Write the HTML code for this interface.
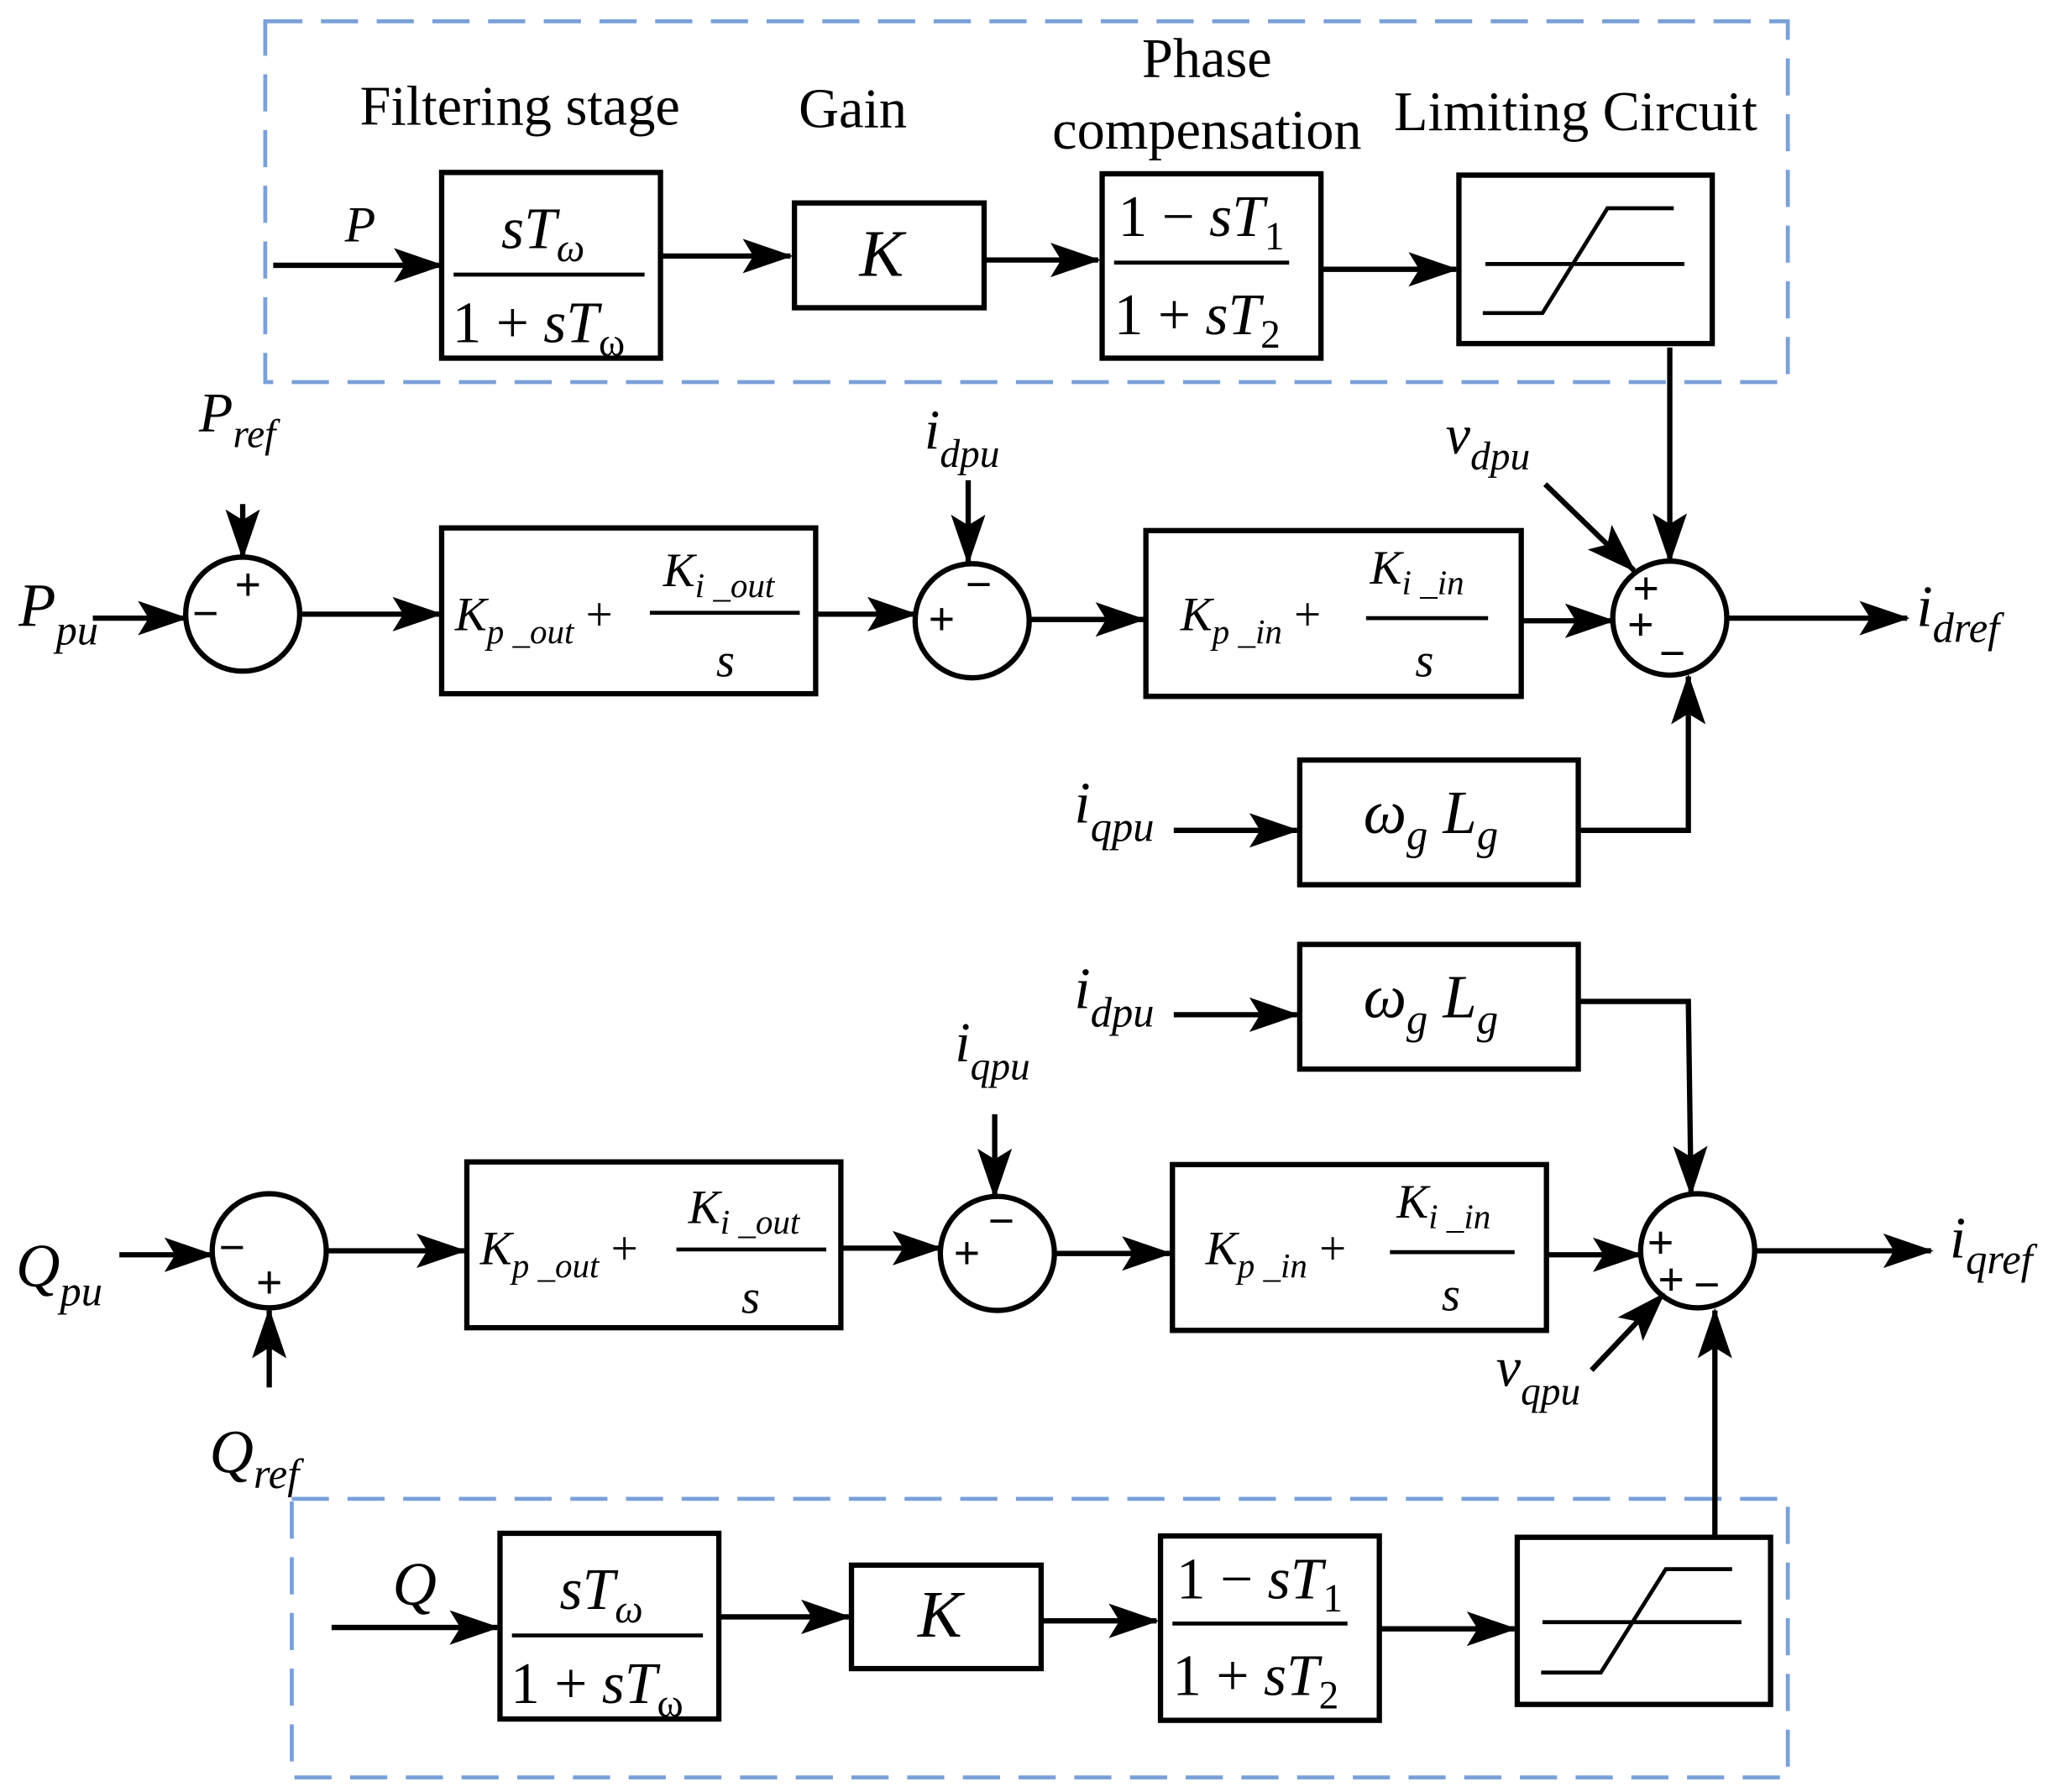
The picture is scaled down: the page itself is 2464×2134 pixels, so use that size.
<!DOCTYPE html>
<html><head><meta charset="utf-8"><style>html,body{margin:0;padding:0;background:#fff}svg{display:block}</style></head><body>
<svg width="2464" height="2134" viewBox="0 0 1560 1351" xmlns="http://www.w3.org/2000/svg" font-family="Liberation Serif, serif">
<defs><marker id="a" markerUnits="userSpaceOnUse" markerWidth="40" markerHeight="30" refX="36" refY="13" orient="auto"><path d="M0,0 L38,13 L0,26 L8,13 Z" fill="#000"/></marker></defs>
<g fill="none" stroke="#7aa0d8" stroke-width="3" stroke-dasharray="28,14">
<rect x="200" y="16" width="1148" height="272"/>
<rect x="220" y="1130" width="1128" height="210"/>
</g>
<g font-size="42" text-anchor="middle" fill="#000">
<text x="392" y="94">Filtering stage</text><text x="643" y="96">Gain</text>
<text x="910" y="58">Phase</text><text x="910" y="112">compensation</text><text x="1188" y="98">Limiting Circuit</text>
</g>
<g fill="none" stroke="#000" stroke-width="4">
<rect x="333" y="130" width="165" height="140"/><rect x="599" y="153" width="143" height="79"/>
<rect x="831" y="131" width="165" height="139"/><rect x="1100" y="132" width="191" height="127"/>
<rect x="333" y="398" width="282" height="125"/><rect x="864" y="400" width="283" height="125"/>
<rect x="980" y="573" width="210" height="94"/><rect x="980" y="712" width="210" height="94"/>
<rect x="352" y="876" width="282" height="125"/><rect x="884" y="878" width="282" height="125"/>
<rect x="377" y="1156" width="165" height="140"/><rect x="642" y="1180" width="143" height="78"/>
<rect x="875" y="1158" width="165" height="139"/><rect x="1144" y="1159" width="191" height="126"/>
<circle cx="183" cy="463" r="43"/><circle cx="733" cy="468" r="43"/><circle cx="1259" cy="466" r="43"/>
<circle cx="203" cy="943" r="43"/><circle cx="752" cy="945" r="43"/><circle cx="1280" cy="943" r="43"/>
</g>
<g fill="none" stroke="#000" stroke-width="3">
<path d="M1120,199 H1270 M1118,236 H1163 L1212,157 H1262"/>
<path d="M1163,1223 H1313 M1162,1261 H1207 L1256,1183 H1306"/>
<path d="M342,207 H486 M840,198 H972 M386,1233 H530 M884,1224 H1016"/>
<path d="M490,462 H603 M1030,466 H1122 M510,942 H623 M1048,944 H1142"/>
</g>
<g fill="none" stroke="#000" stroke-width="4" marker-end="url(#a)">
<path d="M206,200 H333"/><path d="M498,193 H596"/><path d="M742,196 H828"/><path d="M996,203 H1098"/>
<path d="M70,466 H140"/><path d="M183,380 V420"/><path d="M226,463 H332"/><path d="M615,463 H690"/>
<path d="M730,362 V424"/><path d="M776,467 H862"/><path d="M1147,468 H1216"/><path d="M1259,262 V423"/>
<path d="M1165,365 L1232,430"/><path d="M1302,466 H1438"/><path d="M885,626 H978"/><path d="M1190,626 H1273 V510"/>
<path d="M885,765 H978"/><path d="M1190,755 H1273 L1275,900"/>
<path d="M90,946 H160"/><path d="M203,1046 V988"/><path d="M246,943 H350"/><path d="M634,941 H709"/>
<path d="M750,840 V902"/><path d="M795,945 H882"/><path d="M1166,946 H1237"/><path d="M1323,943 H1456"/>
<path d="M1200,1033 L1254,976"/><path d="M1293,1157 V988"/>
<path d="M250,1227 H375"/><path d="M542,1219 H640"/><path d="M785,1222 H872"/><path d="M1040,1228 H1142"/>
</g>
<g font-style="italic" fill="#000">
<text x="260" y="182" font-size="38">P</text>
<text x="378" y="187" font-size="44">sT<tspan font-size="30" dy="10">ω</tspan></text>
<text x="341" y="258" font-size="44" font-style="normal">1 + <tspan font-style="italic">sT</tspan><tspan font-size="30" dy="10">ω</tspan></text>
<text x="648" y="208" font-size="50">K</text>
<text x="843" y="178" font-size="44"><tspan font-style="normal">1 − </tspan>sT<tspan font-size="30" dy="10" font-style="normal">1</tspan></text>
<text x="840" y="252" font-size="44"><tspan font-style="normal">1 + </tspan>sT<tspan font-size="30" dy="10" font-style="normal">2</tspan></text>
<text x="150" y="325" font-size="42">P<tspan font-size="30" dy="12">ref</tspan></text>
<text x="14" y="472" font-size="46">P<tspan font-size="32" dy="14">pu</tspan></text>
<text x="697" y="338" font-size="42">i<tspan font-size="30" dy="14">dpu</tspan></text>
<text x="1090" y="342" font-size="42">v<tspan font-size="30" dy="12">dpu</tspan></text>
<text x="1445" y="472" font-size="44">i<tspan font-size="32" dy="12">dref</tspan></text>
<text x="810" y="620" font-size="44">i<tspan font-size="32" dy="14">qpu</tspan></text>
<text x="810" y="760" font-size="44">i<tspan font-size="32" dy="14">dpu</tspan></text>
<text x="720" y="800" font-size="42">i<tspan font-size="30" dy="14">qpu</tspan></text>
<text x="1470" y="948" font-size="44">i<tspan font-size="32" dy="12">qref</tspan></text>
<text x="1128" y="1045" font-size="42">v<tspan font-size="30" dy="14">qpu</tspan></text>
<text x="12" y="970" font-size="46">Q<tspan font-size="32" dy="14">pu</tspan></text>
<text x="158" y="1110" font-size="46">Q<tspan font-size="32" dy="12">ref</tspan></text>
<text x="296" y="1210" font-size="46">Q</text>
<text x="1028" y="628" font-size="46">ω<tspan font-size="32" dy="12">g</tspan><tspan dy="-12"> L</tspan><tspan font-size="32" dy="12">g</tspan></text>
<text x="1028" y="767" font-size="46">ω<tspan font-size="32" dy="12">g</tspan><tspan dy="-12"> L</tspan><tspan font-size="32" dy="12">g</tspan></text>
<text x="343" y="475" font-size="36">K<tspan font-size="26" dy="10">p _out</tspan><tspan font-style="normal" font-size="36" dy="-10"> +</tspan></text>
<text x="500" y="442" font-size="36">K<tspan font-size="26" dy="8">i _out</tspan></text>
<text x="540" y="510" font-size="36">s</text>
<text x="890" y="475" font-size="36">K<tspan font-size="26" dy="10">p _in</tspan><tspan font-style="normal" font-size="36" dy="-10"> +</tspan></text>
<text x="1033" y="440" font-size="36">K<tspan font-size="26" dy="8">i _in</tspan></text>
<text x="1067" y="510" font-size="36">s</text>
<text x="362" y="953" font-size="36">K<tspan font-size="26" dy="10">p _out</tspan><tspan font-style="normal" font-size="36" dy="-10"> +</tspan></text>
<text x="519" y="922" font-size="36">K<tspan font-size="26" dy="8">i _out</tspan></text>
<text x="559" y="990" font-size="36">s</text>
<text x="909" y="953" font-size="36">K<tspan font-size="26" dy="10">p _in</tspan><tspan font-style="normal" font-size="36" dy="-10"> +</tspan></text>
<text x="1053" y="918" font-size="36">K<tspan font-size="26" dy="8">i _in</tspan></text>
<text x="1087" y="988" font-size="36">s</text>
<text x="422" y="1213" font-size="44">sT<tspan font-size="30" dy="10">ω</tspan></text>
<text x="385" y="1284" font-size="44" font-style="normal">1 + <tspan font-style="italic">sT</tspan><tspan font-size="30" dy="10">ω</tspan></text>
<text x="692" y="1234" font-size="50">K</text>
<text x="887" y="1205" font-size="44"><tspan font-style="normal">1 − </tspan>sT<tspan font-size="30" dy="10" font-style="normal">1</tspan></text>
<text x="884" y="1278" font-size="44"><tspan font-style="normal">1 + </tspan>sT<tspan font-size="30" dy="10" font-style="normal">2</tspan></text>
</g>
<g font-size="34" text-anchor="middle" fill="#000" font-family="Liberation Sans, sans-serif">
<text x="187" y="452">+</text><text x="155" y="474">−</text>
<text x="738" y="452">−</text><text x="710" y="478">+</text>
<text x="1241" y="455">+</text><text x="1237" y="482">+</text><text x="1261" y="504">−</text>
<text x="175" y="952">−</text><text x="203" y="978">+</text>
<text x="755" y="932">−</text><text x="729" y="956">+</text>
<text x="1252" y="948">+</text><text x="1260" y="976">+</text><text x="1287" y="980">−</text>
</g>
</svg>
</body></html>
